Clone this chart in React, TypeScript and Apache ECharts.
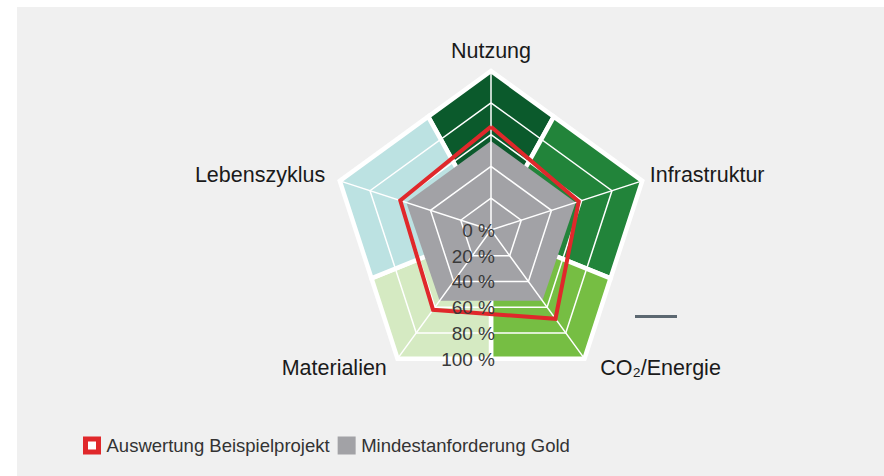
import React, { useEffect, useRef } from 'react';
import * as echarts from 'echarts';

// Radar indicators (counter-clockwise from the top, as ECharts places them)
const indicators = ['Nutzung', 'Lebenszyklus', 'Materialien', 'CO₂/Energie', 'Infrastruktur'];
const goldValues = [56, 56, 55, 55, 56];
const projectValues = [65, 60, 62, 69, 58];

// Percentage tick labels along the downward direction
const percentTicks = [0, 20, 40, 60, 80, 100];
const tickLabels = ['0 %', '20 %', '40 %', '60 %', '80 %', '100 %'];

// Coloured background regions (bearing in degrees, clockwise from the top)
const regionNames = ['Nutzung', 'Infrastruktur', 'CO₂/Energie', 'Materialien', 'Lebenszyklus'];
const regionStart = [331, 29, 112, 180, 248];
const regionEnd = [29, 112, 180, 248, 331];
const regionVertex = [0, 72, 144, 216, 288];
const regionColors = ['#0b5a2c', '#22843a', '#76be43', '#d5eac2', '#bce2e2'];

const seriesNames = ['Auswertung Beispielprojekt', 'Mindestanforderung Gold'];

const FONT = '"Liberation Sans", Arial, Helvetica, sans-serif';
const COS36 = Math.cos(Math.PI / 5);

function edgeRadius(b: number) {
  const rel = ((b % 72) + 72) % 72;
  const delta = (Math.abs(rel - 36) * Math.PI) / 180;
  return (100 * COS36) / Math.cos(delta);
}

const nameKeys: Record<string, string> = {
  'Nutzung': 'n0',
  'Lebenszyklus': 'n1',
  'Materialien': 'n2',
  'CO₂/Energie': 'n3',
  'Infrastruktur': 'n4',
};

export default function App() {
  const ref = useRef<HTMLDivElement>(null);

  useEffect(() => {
    if (!ref.current) return;
    const chart = echarts.init(ref.current, undefined, { renderer: 'svg' });
    const center = [491, 230];
    const radius = 159;
    const nameBase = { fontSize: 21.5, color: '#1a1a1a', fontFamily: FONT };

    const option: any = {
      animation: false,
      backgroundColor: '#ffffff',
      textStyle: { fontFamily: FONT },
      graphic: [
        {
          type: 'rect',
          left: 17,
          top: 7,
          shape: { width: 867, height: 469 },
          style: { fill: '#f0f0f0' },
          z: -10,
          silent: true,
        },
        {
          type: 'line',
          shape: { x1: 635, y1: 316.5, x2: 677, y2: 316.5 },
          style: { stroke: '#5c6871', lineWidth: 3 },
          z: 10,
        },
      ],
      legend: {
        left: 83,
        top: 436,
        padding: 0,
        itemWidth: 13,
        itemHeight: 13,
        itemGap: 8,
        selectedMode: false,
        textStyle: { fontSize: 18.5, color: '#333', fontFamily: FONT, padding: [0, 0, 0, 3] },
        data: [
          {
            name: seriesNames[0],
            icon: 'rect',
            itemStyle: { color: '#ffffff', borderColor: '#e0282b', borderWidth: 5 },
          },
          {
            name: seriesNames[1],
            icon: 'rect',
            itemStyle: { color: '#a2a2a6', borderColor: '#a2a2a6', borderWidth: 5 },
          },
        ],
      },
      polar: { center, radius },
      angleAxis: {
        type: 'value',
        min: 0,
        max: 360,
        startAngle: 90,
        clockwise: true,
        show: false,
      },
      radiusAxis: { type: 'value', min: 0, max: 100, show: false },
      radar: {
        center,
        radius,
        startAngle: 90,
        splitNumber: 5,
        shape: 'polygon',
        z: 3,
        axisNameGap: 8,
        indicator: indicators.map((n) => ({ name: n, max: 100, min: 0 })),
        axisName: {
          ...nameBase,
          formatter: (name: string) => `{${nameKeys[name]}|${name}}`,
          rich: {
            n0: { ...nameBase, padding: [0, 0, 1, 0] },
            n1: { ...nameBase, padding: [0, 7, 7, 0] },
            n2: { ...nameBase, padding: [6, 6, 0, 0] },
            n3: { ...nameBase, padding: [6, 0, 0, 11] },
            n4: { ...nameBase, padding: [0, 0, 7, 0] },
          },
        },
        axisLine: { lineStyle: { color: '#ffffff', width: 1.5 } },
        splitLine: { lineStyle: { color: '#ffffff', width: 1.5 } },
        splitArea: { show: false },
        axisTick: { show: false },
        axisLabel: { show: false },
      },
      series: [
        {
          name: 'regions',
          type: 'custom',
          coordinateSystem: 'polar',
          z: 1,
          silent: true,
          data: regionNames.map((n, i) => ({
            name: n,
            value: [regionStart[i], regionEnd[i], regionVertex[i]],
            itemStyle: { color: regionColors[i] },
          })),
          renderItem: (params: any, api: any) => {
            const s = api.value(0);
            const e = api.value(1);
            const v = api.value(2);
            const pts = [
              api.coord([0, 0]),
              api.coord([edgeRadius(s), s]),
              api.coord([100, v]),
              api.coord([edgeRadius(e), e]),
            ];
            return {
              type: 'polygon',
              shape: { points: pts },
              style: { fill: api.visual('color'), stroke: '#ffffff', lineWidth: 4.5, lineJoin: 'miter' },
            };
          },
        },
        {
          name: seriesNames[1],
          type: 'radar',
          z: 2,
          symbol: 'none',
          itemStyle: { color: '#a2a2a6' },
          lineStyle: { width: 0, color: '#a2a2a6' },
          areaStyle: { color: '#a2a2a6', opacity: 1 },
          data: [{ value: goldValues, name: seriesNames[1] }],
        },
        {
          name: seriesNames[0],
          type: 'radar',
          z: 5,
          symbol: 'none',
          itemStyle: { color: '#e0282b' },
          lineStyle: { width: 4, color: '#e0282b', join: 'miter' },
          data: [{ value: projectValues, name: seriesNames[0] }],
        },
        {
          name: 'ticks',
          type: 'custom',
          coordinateSystem: 'polar',
          z: 6,
          silent: true,
          data: percentTicks.map((t) => [t]),
          renderItem: (params: any, api: any) => {
            const v = api.value(0);
            const p = api.coord([v * COS36, 180]);
            return {
              type: 'text',
              x: p[0] + 4,
              y: p[1] + 0.5,
              style: {
                text: tickLabels[params.dataIndex],
                fill: '#3a3a3a',
                font: `19px ${FONT}`,
                align: 'right',
                verticalAlign: 'middle',
              },
            };
          },
        },
      ],
    };

    chart.setOption(option);
    return () => chart.dispose();
  }, []);

  return (
    <div
      ref={ref}
      style={{ position: 'absolute', left: 0, top: 0, width: 884, height: 476 }}
    />
  );
}
